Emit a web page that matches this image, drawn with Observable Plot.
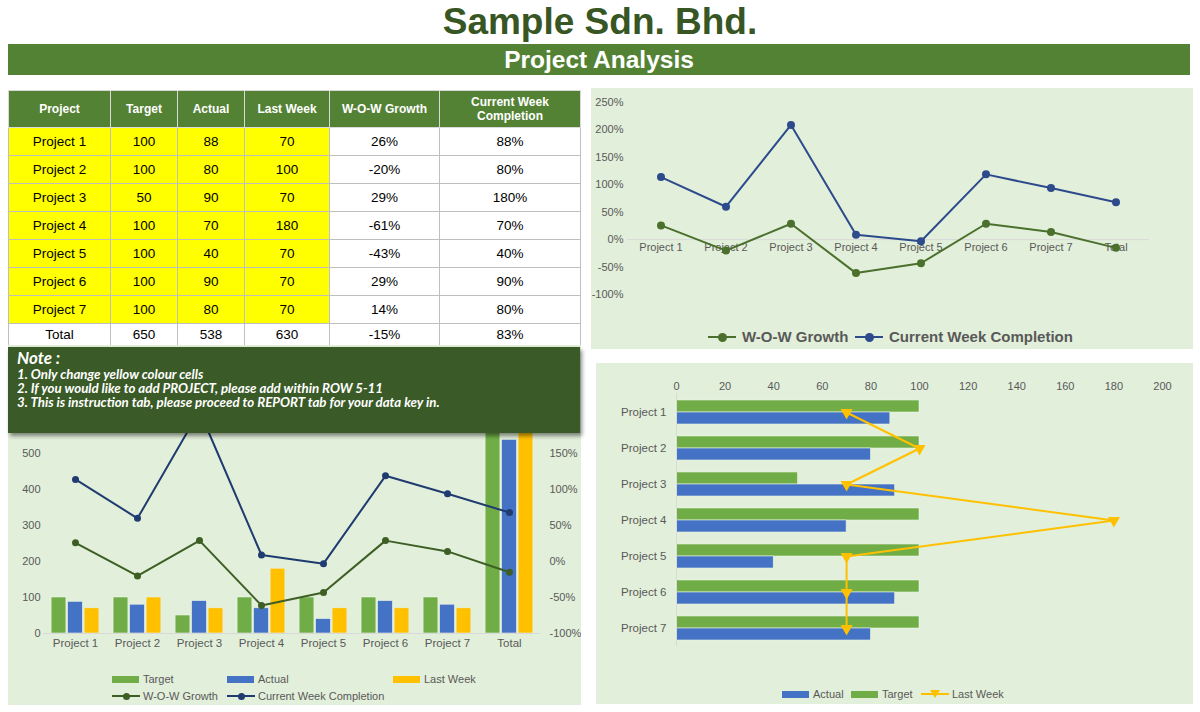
<!DOCTYPE html>
<html>
<head>
<meta charset="utf-8">
<script src="https://cdn.jsdelivr.net/npm/d3@7"></script>
<script src="https://cdn.jsdelivr.net/npm/@observablehq/plot@0.6"></script>
<style>
  body { margin: 0; width: 1200px; height: 712px; background: #fff; position: relative; overflow: hidden;
         font-family: "Liberation Sans", Arial, sans-serif; }
  .abs { position: absolute; }
  #title { left: 0; top: 0; width: 1200px; text-align: center; font-size: 37px; font-weight: bold;
           color: #375623; line-height: 44px; }
  #banner { left: 8px; top: 44px; width: 1182px; height: 31px; background: #548235; color: #fff;
            font-weight: bold; font-size: 24.5px; line-height: 31px; text-align: center; }
  #tbl { left: 8px; top: 90px; width: 572px; border-collapse: collapse; table-layout: fixed; }
  #tbl th, #tbl td { border: 1px solid #bfbfbf; text-align: center; padding: 0; }
  #tbl th { background: #548235; color: #fff; font-weight: bold; font-size: 12px; height: 36px;
            line-height: 14px; border-color: #d9d9d9; }
  #tbl td { font-size: 13.5px; height: 27px; color: #000; }
  #tbl tr.total td { height: 21px; }
  #tbl td.y { background: #ffff00; }
  .panel { background: #e2efda; }
  .panel svg { position: absolute; left: 0; top: 0; }
  .leg { position: absolute; font-size: 11px; color: #595959; white-space: nowrap; line-height: 14px; }
  .sw { position: absolute; }
  #note { left: 8px; top: 347px; width: 572px; height: 86px; background: #3a5a27;
          box-shadow: 2px 3px 4px rgba(0,0,0,0.45); color: #fff; font-family: Lato, "Open Sans", sans-serif;
          font-style: italic; font-weight: bold; }
  #note .h { position: absolute; left: 9px; top: 2px; font-size: 17px; line-height: 18px; }
  #note .l { position: absolute; left: 9px; top: 20px; font-size: 13.3px; line-height: 14px; white-space: nowrap; }
</style>
</head>
<body>
<div id="title" class="abs">Sample Sdn. Bhd.</div>
<div id="banner" class="abs">Project Analysis</div>
<table id="tbl" class="abs"></table>

<div id="pTop" class="abs panel" style="left:591px;top:88px;width:602px;height:261px;"></div>
<div id="pLeft" class="abs panel" style="left:8px;top:345px;width:573px;height:360px;"></div>
<div id="pRight" class="abs panel" style="left:596px;top:363px;width:597px;height:341px;"></div>

<div id="note" class="abs">
  <div class="h">Note :</div>
  <div class="l">1. Only change yellow colour cells<br>2. If you would like to add PROJECT, please add within ROW 5-11<br>3. This is instruction tab, please proceed to REPORT tab for your data key in.</div>
</div>

<script>
// ---- project figures ----
const categories = ["Project 1", "Project 2", "Project 3", "Project 4", "Project 5", "Project 6", "Project 7", "Total"];
const targetVals = [100, 100, 50, 100, 100, 100, 100, 650];
const actualVals = [88, 80, 90, 70, 40, 90, 80, 538];
const lastWeekVals = [70, 100, 70, 180, 70, 70, 70, 630];
const wowPct = [26, -20, 29, -61, -43, 29, 14, -15];          // W-O-W Growth, %
const completionPct = [88, 80, 180, 70, 40, 90, 80, 83];      // Current Week Completion, %

const tableHeaders = ["Project", "Target", "Actual", "Last Week", "W-O-W Growth", "Current Week<br>Completion"];
const colWidths = [102, 67, 67, 85, 110, 141];
const pctTicks = [-100, -50, 0, 50, 100, 150, 200, 250];
const countTicks = [0, 100, 200, 300, 400, 500];              // labels below the note box
const barTicks = [0, 20, 40, 60, 80, 100, 120, 140, 160, 180, 200];

const C = {
  target: "#70ad47", actual: "#4472c4", last: "#ffc000",
  wow: "#4b6f2c", comp: "#2c4a8c", grey: "#595959", axis: "#d9d9d9"
};
const FONT = '"Liberation Sans", Arial, sans-serif';

// rows shared by the charts; completion is stacked on top of growth (stacked line)
const rows = categories.map((cat, i) => ({
  cat, target: targetVals[i], actual: actualVals[i], last: lastWeekVals[i],
  wow: wowPct[i], comp: completionPct[i], stacked: wowPct[i] + completionPct[i]
}));
const projRows = rows.slice(0, 7);

// ---- table ----
const tbl = document.getElementById("tbl");
tbl.innerHTML =
  "<colgroup>" + colWidths.map(w => `<col style="width:${w}px">`).join("") + "</colgroup>" +
  "<tr>" + tableHeaders.map(h => `<th>${h}</th>`).join("") + "</tr>" +
  rows.map((r, i) => {
    const isTotal = r.cat === "Total";
    const y = isTotal ? "" : ' class="y"';
    return `<tr${isTotal ? ' class="total"' : ""}><td${y}>${r.cat}</td><td${y}>${r.target}</td><td${y}>${r.actual}</td><td${y}>${r.last}</td><td>${r.wow}%</td><td>${r.comp}%</td></tr>`;
  }).join("");

function legendItem(parent, x, y, kind, color, label, marker) {
  const sw = document.createElement("div");
  sw.className = "sw";
  if (kind === "rect") {
    sw.style.cssText = `left:${x}px;top:${y - 3.5}px;width:27px;height:7px;background:${color};`;
    parent.appendChild(sw);
  } else {
    sw.style.cssText = `left:${x}px;top:${y - 1}px;width:28px;height:2px;background:${color};`;
    parent.appendChild(sw);
    const m = document.createElement("div");
    m.className = "sw";
    if (marker === "tri") {
      m.style.cssText = `left:${x + 9}px;top:${y - 4}px;width:0;height:0;border-left:5px solid transparent;border-right:5px solid transparent;border-top:8px solid ${color};`;
    } else {
      const r = marker || 3.5;
      m.style.cssText = `left:${x + 14 - r}px;top:${y - r}px;width:${2 * r}px;height:${2 * r}px;border-radius:50%;background:${color};`;
    }
    parent.appendChild(m);
  }
  const t = document.createElement("div");
  t.className = "leg";
  t.style.left = (x + 31) + "px";
  t.style.top = (y - 7) + "px";
  t.textContent = label;
  parent.appendChild(t);
  return t;
}

// ---- top right: stacked line chart of growth and completion ----
{
  const panel = document.getElementById("pTop");
  const chart = Plot.plot({
    width: 602, height: 262,
    marginLeft: 36, marginRight: 44, marginTop: 14, marginBottom: 56,
    style: { background: "transparent", fontFamily: FONT, fontSize: "11px", color: C.grey },
    x: { type: "band", domain: categories, padding: 0, axis: null },
    y: { domain: [-100, 250] },
    marks: [
      Plot.axisY({ ticks: pctTicks, tickSize: 0, tickPadding: 4, tickFormat: d => d + "%", label: null, fill: C.grey }),
      Plot.ruleY([0], { stroke: C.axis, strokeWidth: 1 }),
      Plot.text(categories, { x: d => d, y: () => 0, dy: 8, fill: C.grey, fontSize: 11 }),
      Plot.line(rows, { x: "cat", y: "wow", stroke: C.wow, strokeWidth: 2 }),
      Plot.dot(rows, { x: "cat", y: "wow", fill: C.wow, r: 4 }),
      Plot.line(rows, { x: "cat", y: "stacked", stroke: C.comp, strokeWidth: 2 }),
      Plot.dot(rows, { x: "cat", y: "stacked", fill: C.comp, r: 4 })
    ]
  });
  panel.appendChild(chart);
  const legWrap = document.createElement("div");
  legWrap.style.cssText = "position:absolute;left:0;top:0;";
  panel.appendChild(legWrap);
  const a = legendItem(legWrap, 117, 249, "line", C.wow, "W-O-W Growth", 4.5);
  const b = legendItem(legWrap, 264, 249, "line", C.comp, "Current Week Completion", 4.5);
  for (const t of [a, b]) { t.style.fontSize = "15px"; t.style.fontWeight = "bold"; t.style.top = "240px"; t.style.lineHeight = "18px"; }
  a.style.left = "151px"; b.style.left = "298px";
}

// ---- bottom left: combo chart, bars on the count axis and stacked lines on the % axis ----
{
  const panel = document.getElementById("pLeft");
  const toCount = p => (p + 100) * 2;   // -100% .. 250% mapped onto 0 .. 700
  const inset = 23.6;
  const chart = Plot.plot({
    width: 573, height: 312,
    marginLeft: 35, marginRight: 41, marginTop: 36, marginBottom: 24,
    style: { background: "transparent", fontFamily: FONT, fontSize: "11px", color: C.grey },
    x: { type: "band", domain: categories, padding: 0 },
    y: { domain: [0, 700] },
    marks: [
      Plot.axisY({ ticks: countTicks, tickSize: 0, tickPadding: 3, label: null, fill: C.grey }),
      Plot.axisY({ anchor: "right", ticks: countTicks, tickSize: 0, tickPadding: 9, label: null, fill: C.grey,
                   tickFormat: d => (d / 2 - 100) + "%" }),
      Plot.axisX({ tickSize: 0, tickPadding: 5, label: null, fill: C.grey, fontSize: 11.5 }),
      Plot.barY(rows, { x: "cat", y: "target", fill: C.target, insetLeft: inset, insetRight: inset, dx: -16.5,
                        stroke: "#e9f3e3", strokeWidth: 0.6 }),
      Plot.barY(rows, { x: "cat", y: "actual", fill: C.actual, insetLeft: inset, insetRight: inset, dx: 0,
                        stroke: "#e9f3e3", strokeWidth: 0.6 }),
      Plot.barY(rows, { x: "cat", y: "last", fill: C.last, insetLeft: inset, insetRight: inset, dx: 16.5,
                        stroke: "#e9f3e3", strokeWidth: 0.6 }),
      Plot.ruleY([0], { stroke: C.axis, strokeWidth: 1 }),
      Plot.line(rows, { x: "cat", y: d => toCount(d.wow), stroke: "#3d5e24", strokeWidth: 2 }),
      Plot.dot(rows, { x: "cat", y: d => toCount(d.wow), fill: "#3d5e24", r: 3.5 }),
      Plot.line(rows, { x: "cat", y: d => toCount(d.stacked), stroke: "#1f3b70", strokeWidth: 2 }),
      Plot.dot(rows, { x: "cat", y: d => toCount(d.stacked), fill: "#1f3b70", r: 3.5 })
    ]
  });
  panel.appendChild(chart);
  const lx = -8, ly = -345;
  legendItem(panel, 112 + lx, 679 + ly, "rect", C.target, "Target");
  legendItem(panel, 227 + lx, 679 + ly, "rect", C.actual, "Actual");
  legendItem(panel, 393 + lx, 679 + ly, "rect", C.last, "Last Week");
  legendItem(panel, 112 + lx, 696 + ly, "line", "#3d5e24", "W-O-W Growth", 3.5);
  legendItem(panel, 227 + lx, 696 + ly, "line", "#1f3b70", "Current Week Completion", 3.5);
}

// ---- bottom right: horizontal bars with last week's line ----
{
  const panel = document.getElementById("pRight");
  const chart = Plot.plot({
    width: 597, height: 300,
    marginLeft: 80, marginRight: 31, marginTop: 30, marginBottom: 17,
    style: { background: "transparent", fontFamily: FONT, fontSize: "11px", color: C.grey },
    x: { domain: [0, 200] },
    y: { type: "band", domain: categories.slice(0, 7), padding: 0 },
    marks: [
      Plot.axisX({ anchor: "top", ticks: barTicks, tickSize: 0, tickPadding: 4, label: null, fill: C.grey }),
      Plot.axisY({ tickSize: 0, tickPadding: 10, label: null, fill: C.grey, fontSize: 11.5 }),
      Plot.barX(projRows, { y: "cat", x: "target", fill: C.target, insetTop: 12, insetBottom: 12, dy: -6,
                            stroke: "#e9f3e3", strokeWidth: 0.6 }),
      Plot.barX(projRows, { y: "cat", x: "actual", fill: C.actual, insetTop: 12, insetBottom: 12, dy: 6,
                            stroke: "#e9f3e3", strokeWidth: 0.6 }),
      Plot.ruleX([0], { stroke: C.axis, strokeWidth: 1 }),
      Plot.line(projRows, { y: "cat", x: "last", stroke: C.last, strokeWidth: 2 }),
      Plot.dot(projRows, { y: "cat", x: "last", symbol: "triangle", rotate: 180, fill: C.last, r: 4.5 })
    ]
  });
  panel.appendChild(chart);
  const lx = -596, ly = -363;
  legendItem(panel, 782 + lx, 694 + ly, "rect", C.actual, "Actual");
  legendItem(panel, 851 + lx, 694 + ly, "rect", C.target, "Target");
  legendItem(panel, 921 + lx, 694 + ly, "line", C.last, "Last Week", "tri");
}
</script>
</body>
</html>
